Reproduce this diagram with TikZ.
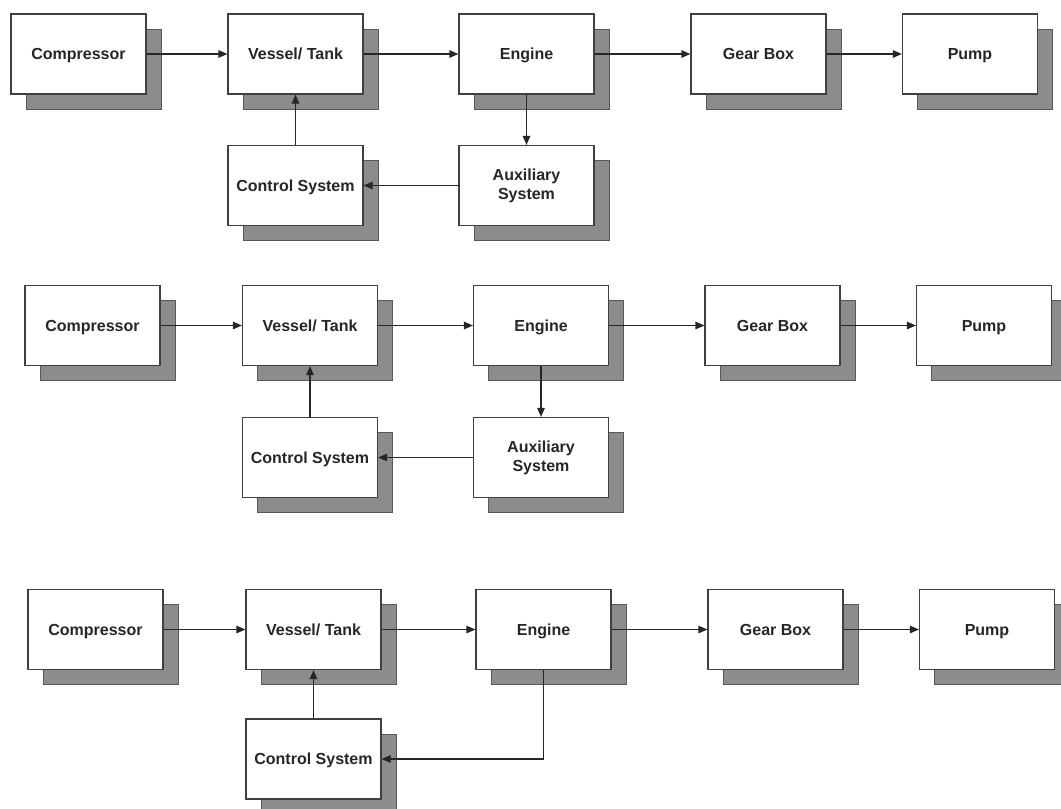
\documentclass[tikz,border=0pt]{standalone}
\usepackage{fontspec}
\setmainfont{Liberation Sans}
\usetikzlibrary{arrows.meta,shadows}

\tikzset{
  blk/.style={
    draw=black!75, line width=1.2pt, fill=white,
    minimum width=135pt, minimum height=80pt, inner sep=2pt,
    align=center, text=black!85,
    font=\fontsize{16}{19}\selectfont\bfseries,
    general shadow={fill=black!45, draw=black!65, line width=0.8pt,
                    shadow xshift=15pt, shadow yshift=-15pt}
  },
  % single-line labels share one baseline regardless of descenders
  oneline/.style={blk, text height=12pt, text depth=0.4pt},
  arr/.style={draw=black!85, line width=1.2pt, -{Triangle[length=9pt,width=7.5pt]}}
}

\begin{document}
\begin{tikzpicture}[x=1pt,y=-1pt]
\useasboundingbox[fill=white] (0,0) rectangle (1061,809);

% ---- first chain: engine feeds the auxiliary system ----
\node[oneline] (comp1) at (78.5,54)  {Compressor};
\node[oneline] (ves1)  at (295.5,54) {Vessel/ Tank};
\node[oneline] (eng1)  at (526.5,54) {Engine};
\node[oneline] (gear1) at (758.5,54) {Gear Box};
\node[oneline] (pump1) at (970,54)   {Pump};
\node[oneline] (ctl1)  at (295.5,185.5) {Control System};
\node[blk]     (aux1)  at (526.5,185.5) {Auxiliary\\System};

\draw[arr] (comp1) -- (ves1);
\draw[arr] (ves1) -- (eng1);
\draw[arr] (eng1) -- (gear1);
\draw[arr] (gear1) -- (pump1);
\draw[arr] (eng1) -- (aux1);
\draw[arr] (aux1) -- (ctl1);
\draw[arr] (ctl1) -- (ves1);

% ---- second chain ----
\node[oneline] (comp2) at (92.5,325.5) {Compressor};
\node[oneline] (ves2)  at (310,325.5)  {Vessel/ Tank};
\node[oneline] (eng2)  at (541,325.5)  {Engine};
\node[oneline] (gear2) at (772.5,325.5) {Gear Box};
\node[oneline] (pump2) at (984,325.5)  {Pump};
\node[oneline] (ctl2)  at (310,457.5)  {Control System};
\node[blk]     (aux2)  at (541,457.5)  {Auxiliary\\System};

\draw[arr] (comp2) -- (ves2);
\draw[arr] (ves2) -- (eng2);
\draw[arr] (eng2) -- (gear2);
\draw[arr] (gear2) -- (pump2);
\draw[arr] (eng2) -- (aux2);
\draw[arr] (aux2) -- (ctl2);
\draw[arr] (ctl2) -- (ves2);

% ---- third chain: engine reports straight to the control system ----
\node[oneline] (comp3) at (95.5,629.5) {Compressor};
\node[oneline] (ves3)  at (313.5,629.5) {Vessel/ Tank};
\node[oneline] (eng3)  at (543.5,629.5) {Engine};
\node[oneline] (gear3) at (775.5,629.5) {Gear Box};
\node[oneline] (pump3) at (987,629.5)  {Pump};
\node[oneline] (ctl3)  at (313.5,759)  {Control System};

\draw[arr] (comp3) -- (ves3);
\draw[arr] (ves3) -- (eng3);
\draw[arr] (eng3) -- (gear3);
\draw[arr] (gear3) -- (pump3);
\draw[arr] (eng3.south) |- (ctl3.east);
\draw[arr] (ctl3) -- (ves3);
\end{tikzpicture}
\end{document}
